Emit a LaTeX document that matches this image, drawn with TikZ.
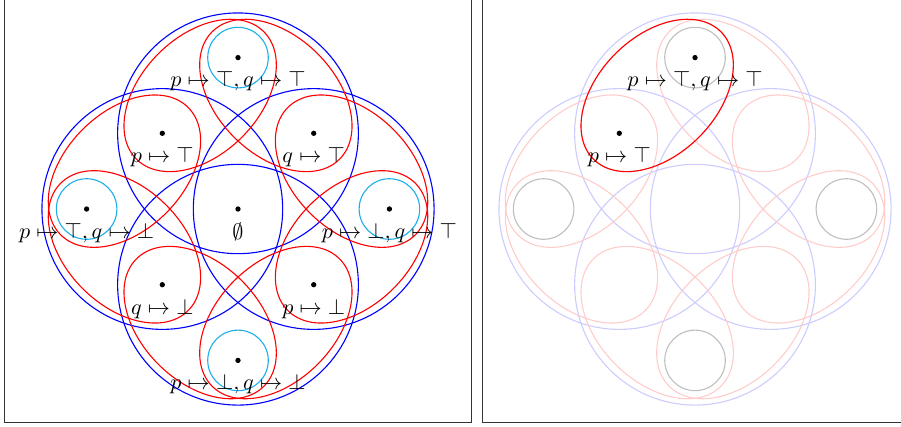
\documentclass[tikz,border=0pt]{standalone}
\definecolor{cyanish}{RGB}{30,175,235}
\newcommand{\myLattice}[3]{%
  \foreach \cx/\cy in {0/1,-1/0,1/0,0/-1} {\draw[#1] (\cx,\cy) circle[radius=1.59];}
  \foreach \cx/\cy/\r in {-0.5/1.5/45, 0.5/1.5/-45, 1.5/0.5/-45, 1.5/-0.5/45, 0.5/-1.5/45, -0.5/-1.5/-45, -1.5/-0.5/-45, -1.5/0.5/45}
    {\draw[#2] (\cx,\cy) ellipse[x radius=1.19, y radius=0.78, rotate=\r];}
  \foreach \cx/\cy in {0/2,-2/0,2/0,0/-2} {\draw[#3] (\cx,\cy) circle[radius=0.4];}
}
\begin{document}
\begin{tikzpicture}[x=1.2cm,y=1.2cm, line width=0.5pt,
  dotn/.style={circle, fill=black, inner sep=0pt, minimum size=2.4pt},
  lbl/.style={anchor=north, inner sep=3.33pt},
  frm/.style={draw=black!80, line width=0.4pt}]
\useasboundingbox (-3.144,-2.867) rectangle (8.758,2.761);
% frames
\draw[frm] (-3.085,-2.815) rectangle (3.085,2.9);
\draw[frm] (3.223,-2.815) rectangle (8.9,2.9);
% left panel
\myLattice{blue}{red}{cyanish}
\node[dotn] (a1) at (0,2) {};
\node[dotn] (a2) at (-1,1) {};
\node[dotn] (a3) at (1,1) {};
\node[dotn] (a4) at (-2,0) {};
\node[dotn] (a5) at (0,0) {};
\node[dotn] (a6) at (2,0) {};
\node[dotn] (a7) at (-1,-1) {};
\node[dotn] (a8) at (1,-1) {};
\node[dotn] (a9) at (0,-2) {};
\node[lbl] (b1) at (0,1.92) {$p\mapsto\top, q\mapsto\top$};
\node[lbl] (b2) at (-1,0.92) {$p\mapsto\top$};
\node[lbl] (b3) at (1,0.92) {$q\mapsto\top$};
\node[lbl] (b4) at (-2,-0.08) {$p\mapsto\top, q\mapsto\bot$};
\node[lbl] (b5) at (0,-0.08) {$\emptyset$};
\node[lbl] (b6) at (2,-0.08) {$p\mapsto\bot, q\mapsto\top$};
\node[lbl] (b7) at (-1,-1.08) {$q\mapsto\bot$};
\node[lbl] (b8) at (1,-1.08) {$p\mapsto\bot$};
\node[lbl] (b9) at (0,-2.08) {$p\mapsto\bot, q\mapsto\bot$};
% right panel
\begin{scope}[shift={(6.037,0)}]
\myLattice{blue!20}{red!20}{gray!50}
\draw[red] (-0.5,1.5) ellipse[x radius=1.19, y radius=0.78, rotate=45];
\node[dotn] (c1) at (0,2) {};
\node[dotn] (c2) at (-1,1) {};
\node[lbl] (d1) at (0,1.92) {$p\mapsto\top, q\mapsto\top$};
\node[lbl] (d2) at (-1,0.92) {$p\mapsto\top$};
\end{scope}
\end{tikzpicture}
\end{document}
